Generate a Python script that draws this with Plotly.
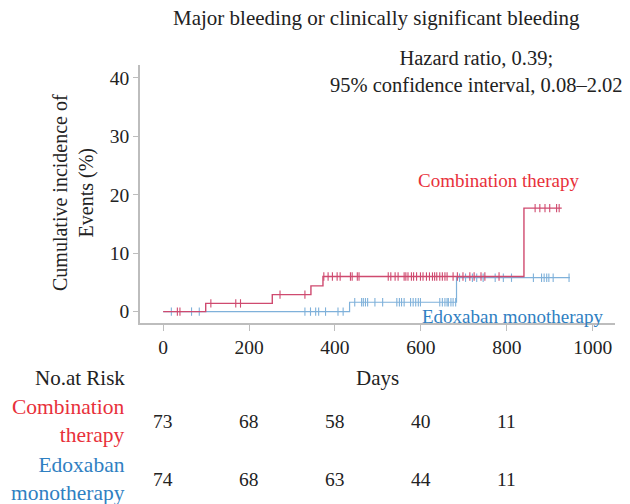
import plotly.graph_objects as go
import numpy as np

# ---- data ----
combo_times = [0, 99, 254, 344, 372, 840, 928]
combo_inc = [0, 1.4, 2.9, 4.4, 6.0, 17.7, 17.7]
edox_times = [0, 434, 683, 947]
edox_inc = [0, 1.6, 5.8, 5.8]

combo_censor = [33, 39, 111, 169, 180, 272, 330, 374, 384, 394, 405, 412, 436, 440, 452, 456,
                524, 530, 540, 547, 561, 565, 570, 578, 583, 590, 599, 605, 613, 620, 627, 632,
                637, 644, 650, 656, 661, 675, 685, 698, 714, 724, 740, 749, 782,
                866, 877, 889, 900, 916, 922]
edox_censor = [19, 66, 84, 330, 343, 355, 362, 378, 407, 419, 446, 462, 466, 471, 476, 493, 511,
               544, 550, 555, 561, 576, 582, 588, 594, 599, 644, 650, 656, 661, 664, 670, 675, 681,
               690, 704, 720, 730, 745, 773, 792, 811, 862, 881, 887, 893, 898, 908, 945]

risk_days = [0, 200, 400, 600, 800]
risk_combo = [73, 68, 58, 40, 11]
risk_edox = [74, 68, 63, 44, 11]

x_ticks = [0, 200, 400, 600, 800, 1000]
y_ticks = [0, 10, 20, 30, 40]

RED_LINE = "#cf4a6f"
BLUE_LINE = "#7fb1da"
RED_TXT = "#e8303a"
BLUE_TXT = "#2f80c2"
FONT = "'Liberation Serif', 'Times New Roman', serif"


def step_val(times, vals, t):
    idx = np.searchsorted(times, t, side="right") - 1
    return vals[max(idx, 0)]


fig = go.Figure()
fig.add_trace(go.Scatter(x=edox_times, y=edox_inc, mode="lines", line=dict(color=BLUE_LINE, width=1.2, shape="hv"),
                         showlegend=False))
fig.add_trace(go.Scatter(x=edox_censor, y=[step_val(edox_times, edox_inc, t) for t in edox_censor],
                         mode="markers", marker=dict(symbol="line-ns", size=6, line=dict(color=BLUE_LINE, width=1.1)),
                         showlegend=False))
fig.add_trace(go.Scatter(x=combo_times, y=combo_inc, mode="lines", line=dict(color=RED_LINE, width=1.4, shape="hv"),
                         showlegend=False))
fig.add_trace(go.Scatter(x=combo_censor, y=[step_val(combo_times, combo_inc, t) for t in combo_censor],
                         mode="markers", marker=dict(symbol="line-ns", size=6, line=dict(color=RED_LINE, width=1.1)),
                         showlegend=False))

# page body has an 8px margin, so the figure is drawn 8px smaller and offset
OFF = 8
L, R, T, B = 140 - OFF, 15, 65 - OFF, 181
W, H = 630 - OFF, 504 - OFF
PW, PH = W - L - R, H - T - B


def px(xp):
    return (xp - 140) / PW


def py(yp):
    return (323 - yp) / PH


anns = []
txtc = "#222222"
BIG = 21
anns.append(dict(text="Major bleeding or clinically significant bleeding", x=px(376), y=py(18), xref="paper", yref="paper",
                 showarrow=False, font=dict(size=BIG, color=txtc, family=FONT), xanchor="center", yanchor="middle"))
anns.append(dict(text="Hazard ratio, 0.39;<br>95% confidence interval, 0.08–2.02", x=px(476), y=py(71), xref="paper", yref="paper",
                 showarrow=False, font=dict(size=20.5, color=txtc, family=FONT), xanchor="center", yanchor="middle", align="center"))
anns.append(dict(text="Cumulative incidence of<br>Events (%)", x=px(73), y=py(193), xref="paper", yref="paper",
                 showarrow=False, textangle=-90, font=dict(size=20, color=txtc, family=FONT), xanchor="center", yanchor="middle"))
anns.append(dict(text="Combination therapy", x=px(498), y=py(180), xref="paper", yref="paper",
                 showarrow=False, font=dict(size=19, color=RED_TXT, family=FONT), xanchor="center", yanchor="middle"))
anns.append(dict(text="Edoxaban monotherapy", x=px(512), y=py(316), xref="paper", yref="paper",
                 showarrow=False, font=dict(size=19, color=BLUE_TXT, family=FONT), xanchor="center", yanchor="middle"))
anns.append(dict(text="Days", x=px(377), y=py(378), xref="paper", yref="paper",
                 showarrow=False, font=dict(size=BIG, color=txtc, family=FONT), xanchor="center", yanchor="middle"))
anns.append(dict(text="No.at Risk", x=px(127), y=py(378), xref="paper", yref="paper",
                 showarrow=False, font=dict(size=BIG, color=txtc, family=FONT), xanchor="right", yanchor="middle"))
anns.append(dict(text="Combination<br>therapy", x=px(127), y=py(421), xref="paper", yref="paper", align="right",
                 showarrow=False, font=dict(size=21.5, color=RED_TXT, family=FONT), xanchor="right", yanchor="middle"))
anns.append(dict(text="Edoxaban<br>monotherapy", x=px(127), y=py(479), xref="paper", yref="paper", align="right",
                 showarrow=False, font=dict(size=21.5, color=BLUE_TXT, family=FONT), xanchor="right", yanchor="middle"))
for d, n in zip(risk_days, risk_combo):
    anns.append(dict(text=str(n), x=d, y=py(421), xref="x", yref="paper", showarrow=False,
                     font=dict(size=19.5, color=txtc, family=FONT), xanchor="center", yanchor="middle"))
for d, n in zip(risk_days, risk_edox):
    anns.append(dict(text=str(n), x=d, y=py(479), xref="x", yref="paper", showarrow=False,
                     font=dict(size=19.5, color=txtc, family=FONT), xanchor="center", yanchor="middle"))

fig.update_layout(
    width=W, height=H,
    margin=dict(l=L, r=R, t=T, b=B),
    paper_bgcolor="white", plot_bgcolor="white",
    font=dict(family=FONT, size=19.5, color=txtc),
    annotations=anns,
    xaxis=dict(range=[-54, 1052], tickvals=x_ticks, showgrid=False, zeroline=False,
               showline=True, linecolor="#bdbdbd", linewidth=1.5, ticks="outside", ticklen=6, tickcolor="#bdbdbd",
               tickfont=dict(size=19.5, family=FONT, color=txtc)),
    yaxis=dict(range=[-1.95, 42.2], tickvals=y_ticks, showgrid=False, zeroline=False,
               showline=True, linecolor="#bdbdbd", linewidth=1.5, ticks="outside", ticklen=5, tickcolor="#bdbdbd",
               tickfont=dict(size=19.5, family=FONT, color=txtc)),
)

fig.write_html("out.html")
